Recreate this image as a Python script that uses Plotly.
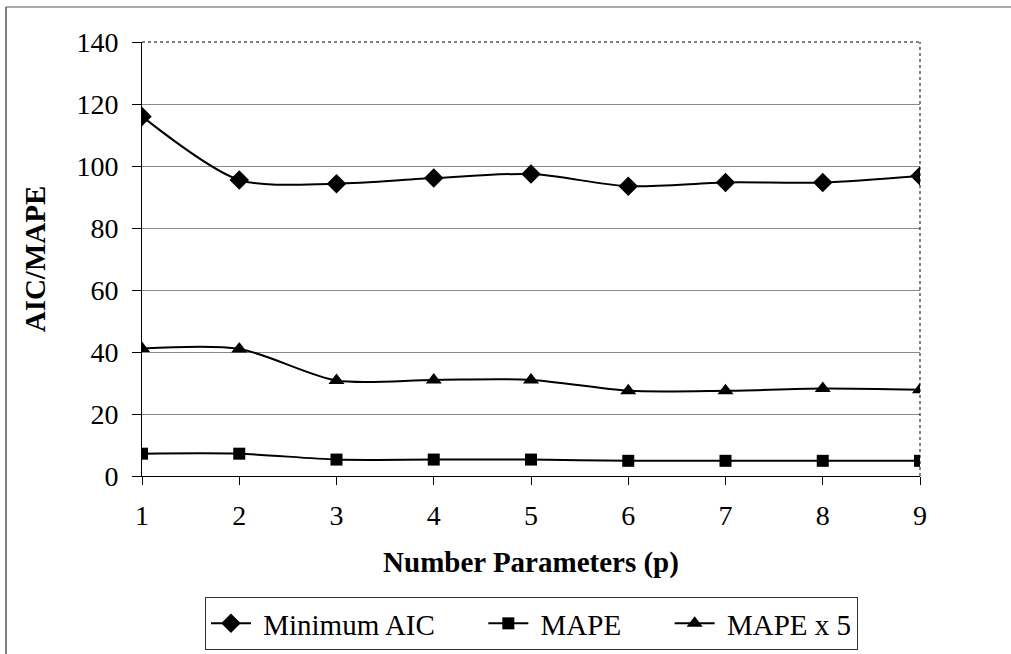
import plotly.graph_objects as go

params = [1, 2, 3, 4, 5, 6, 7, 8, 9]
min_aic = [116.0, 95.5, 94.3, 96.1, 97.4, 93.5, 94.7, 94.7, 96.8]
mape = [7.2, 7.2, 5.3, 5.3, 5.3, 4.9, 4.9, 4.9, 4.9]
mape_x5 = [41.1, 41.0, 30.8, 31.0, 31.0, 27.5, 27.5, 28.2, 27.8]
y_ticks = [0, 20, 40, 60, 80, 100, 120, 140]
series_names = ["Minimum AIC", "MAPE", "MAPE x 5"]

W, H = 1011, 654
L, R, T, B = 142, 91, 42, 178
pw, ph = W - L - R, H - T - B

font_family = "Liberation Serif"
NB = "\u00a0"

fig = go.Figure()
series = [
    (min_aic, "diamond", 15),
    (mape, "square", 12),
    (mape_x5, "triangle-up", 14),
]
for i, (name, (vals, sym, sz)) in enumerate(zip(series_names, series)):
    label = NB + name + (NB * 6 if i < len(series_names) - 1 else "")
    fig.add_trace(go.Scatter(
        x=params, y=vals, name=label, mode="lines+markers",
        line=dict(color="black", width=2, shape="spline", smoothing=0.8),
        marker=dict(symbol=sym, size=sz, color="black"),
    ))

def px_x(p):
    return (p - L) / pw

def px_y(p):
    return (H - B - p) / ph

shapes = [
    dict(type="line", xref="paper", yref="paper", x0=0, x1=1, y0=1, y1=1,
         line=dict(color="black", width=1, dash="dot")),
    dict(type="line", xref="paper", yref="paper", x0=1, x1=1, y0=0, y1=1,
         line=dict(color="black", width=1, dash="dot")),
    dict(type="line", xref="paper", yref="paper", x0=px_x(6), x1=px_x(6), y0=px_y(7), y1=px_y(660),
         line=dict(color="black", width=1)),
    dict(type="line", xref="paper", yref="paper", x0=px_x(6), x1=px_x(1015), y0=px_y(7), y1=px_y(7),
         line=dict(color="#555555", width=1)),
]

fig.update_layout(
    width=W, height=H,
    margin=dict(l=L, r=R, t=T, b=B, autoexpand=False),
    paper_bgcolor="white", plot_bgcolor="white",
    font=dict(family=font_family, color="black", size=28),
    showlegend=True,
    legend=dict(
        orientation="h", x=0.5006, xanchor="center", y=px_y(597), yanchor="top",
        font=dict(family=font_family, size=29, color="black"),
        bordercolor="#333333", borderwidth=1, bgcolor="white",
        itemwidth=40, tracegroupgap=0,
    ),
    shapes=shapes,
    xaxis=dict(
        range=[1, 9], tickmode="array", tickvals=params, ticktext=[str(p) for p in params],
        showgrid=False, zeroline=False, automargin=False,
        showline=True, linecolor="black", linewidth=1,
        ticks="outside", ticklen=8, tickcolor="black",
        tickfont=dict(family=font_family, size=28, color="black"),
        ticklabelstandoff=6,
        title=dict(text="<b>Number Parameters (p)</b>",
                   font=dict(family=font_family, size=29, color="black"), standoff=22),
    ),
    yaxis=dict(
        range=[0, 140], tickmode="array", tickvals=y_ticks,
        showgrid=True, gridcolor="#8a8a8a", gridwidth=1, zeroline=False, automargin=False,
        showline=True, linecolor="black", linewidth=1,
        ticks="outside", ticklen=9, tickcolor="black",
        tickfont=dict(family=font_family, size=28, color="black"),
        ticklabelstandoff=8,
        title=dict(text="<b>AIC/MAPE</b>",
                   font=dict(family=font_family, size=29, color="black"), standoff=22),
    ),
)

fig.write_html("out.html")
